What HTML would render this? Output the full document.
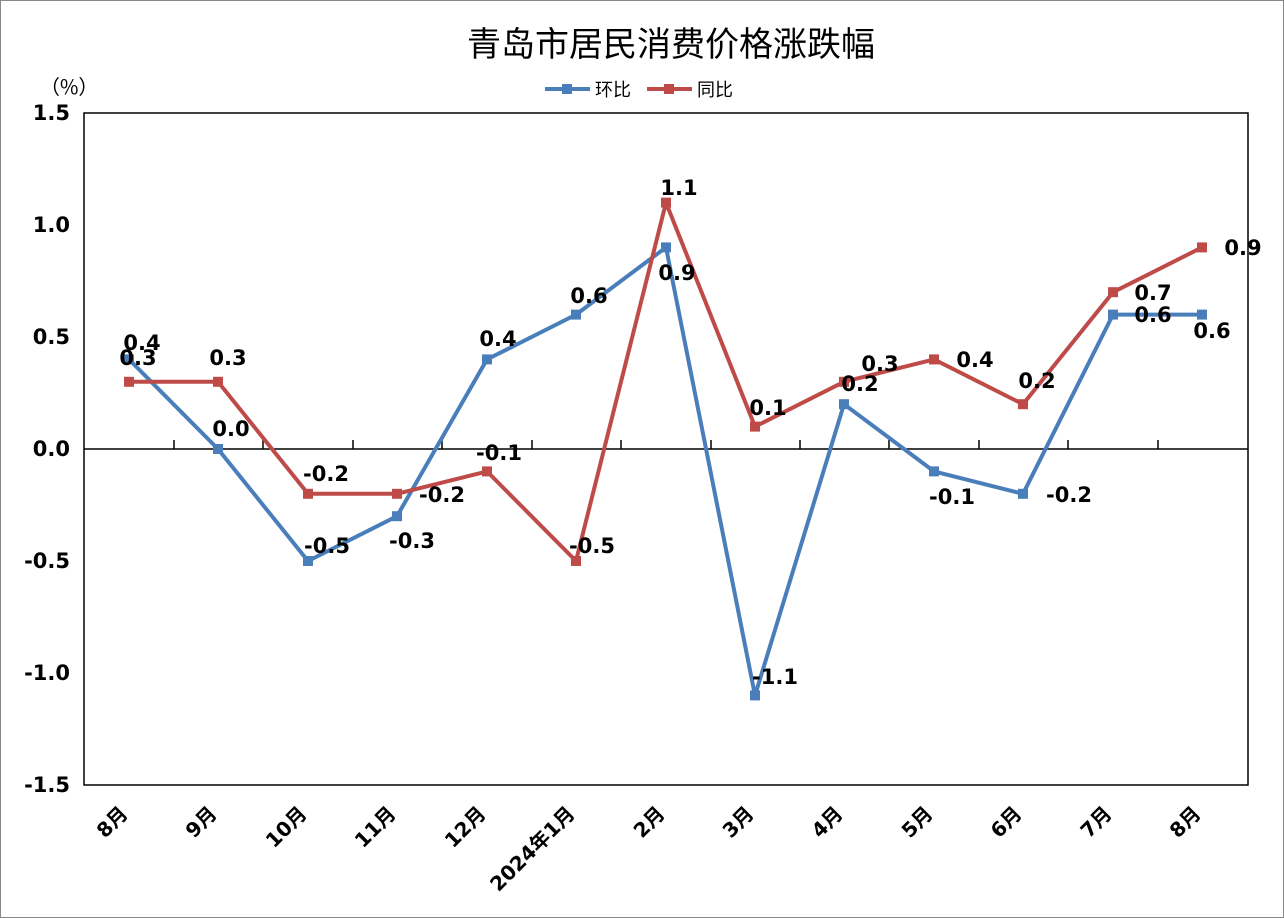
<!DOCTYPE html>
<html><head><meta charset="utf-8"><style>
html,body{margin:0;padding:0;background:#fff}
svg{display:block}
</style></head><body>
<svg width="1284" height="918" xmlns="http://www.w3.org/2000/svg" font-family="'DejaVu Sans','Liberation Sans','Noto Sans CJK SC',sans-serif">
<rect x="0.5" y="0.5" width="1283" height="917" fill="#fff" stroke="#888"/>
<text x="671" y="56" text-anchor="middle" font-size="34" font-family="'Noto Sans CJK SC',sans-serif">青岛市居民消费价格涨跌幅</text>
<text x="40" y="94" font-size="20" font-family="'Noto Sans CJK SC',sans-serif">（%）</text>
<line x1="545" y1="89" x2="590" y2="89" stroke="#4a7ebb" stroke-width="4"/><rect x="562" y="84" width="10" height="10" fill="#4a7ebb"/>
<text x="595" y="96" font-size="18" font-family="'Noto Sans CJK SC',sans-serif">环比</text>
<line x1="647" y1="89" x2="692" y2="89" stroke="#be4b48" stroke-width="4"/><rect x="664" y="84" width="10" height="10" fill="#be4b48"/>
<text x="697" y="96" font-size="18" font-family="'Noto Sans CJK SC',sans-serif">同比</text>
<rect x="84" y="113" width="1164" height="672" fill="none" stroke="#000" stroke-width="1.5"/>
<line x1="84" y1="449" x2="1248" y2="449" stroke="#000" stroke-width="1.5"/>
<g stroke="#000" stroke-width="1.5">
<line x1="174" y1="440" x2="174" y2="449"/><line x1="263" y1="440" x2="263" y2="449"/><line x1="353" y1="440" x2="353" y2="449"/><line x1="442" y1="440" x2="442" y2="449"/><line x1="532" y1="440" x2="532" y2="449"/><line x1="621" y1="440" x2="621" y2="449"/><line x1="711" y1="440" x2="711" y2="449"/><line x1="800" y1="440" x2="800" y2="449"/><line x1="889" y1="440" x2="889" y2="449"/><line x1="979" y1="440" x2="979" y2="449"/><line x1="1068" y1="440" x2="1068" y2="449"/><line x1="1158" y1="440" x2="1158" y2="449"/>
</g>
<g font-size="21" font-weight="bold" text-anchor="end">
<text x="70" y="120">1.5</text><text x="70" y="232">1.0</text><text x="70" y="344">0.5</text><text x="70" y="456">0.0</text><text x="70" y="568">-0.5</text><text x="70" y="680">-1.0</text><text x="70" y="792">-1.5</text>
</g>
<polyline fill="none" stroke="#4a7ebb" stroke-width="4" stroke-linejoin="round" points="129,359.4 218,449 308,561 397,516.2 487,359.4 576,314.6 666,247.4 755,695.4 844,404.2 934,471.4 1023,493.8 1113,314.6 1202,314.6"/>
<polyline fill="none" stroke="#be4b48" stroke-width="4" stroke-linejoin="round" points="129,381.8 218,381.8 308,493.8 397,493.8 487,471.4 576,561 666,202.6 755,426.6 844,381.8 934,359.4 1023,404.2 1113,292.2 1202,247.4"/>
<g fill="#4a7ebb">
<rect x="124" y="354.4" width="10" height="10"/><rect x="213" y="444" width="10" height="10"/><rect x="303" y="556" width="10" height="10"/><rect x="392" y="511.2" width="10" height="10"/><rect x="482" y="354.4" width="10" height="10"/><rect x="571" y="309.6" width="10" height="10"/><rect x="661" y="242.4" width="10" height="10"/><rect x="750" y="690.4" width="10" height="10"/><rect x="839" y="399.2" width="10" height="10"/><rect x="929" y="466.4" width="10" height="10"/><rect x="1018" y="488.8" width="10" height="10"/><rect x="1108" y="309.6" width="10" height="10"/><rect x="1197" y="309.6" width="10" height="10"/>
</g>
<g fill="#be4b48">
<rect x="124" y="376.8" width="10" height="10"/><rect x="213" y="376.8" width="10" height="10"/><rect x="303" y="488.8" width="10" height="10"/><rect x="392" y="488.8" width="10" height="10"/><rect x="482" y="466.4" width="10" height="10"/><rect x="571" y="556" width="10" height="10"/><rect x="661" y="197.6" width="10" height="10"/><rect x="750" y="421.6" width="10" height="10"/><rect x="839" y="376.8" width="10" height="10"/><rect x="929" y="354.4" width="10" height="10"/><rect x="1018" y="399.2" width="10" height="10"/><rect x="1108" y="287.2" width="10" height="10"/><rect x="1197" y="242.4" width="10" height="10"/>
</g>
<g font-size="21" font-weight="bold" text-anchor="middle">
<text x="142" y="350">0.4</text><text x="231" y="436">0.0</text><text x="327" y="553">-0.5</text><text x="412" y="548">-0.3</text><text x="498" y="346">0.4</text><text x="589" y="303">0.6</text><text x="677" y="280">0.9</text><text x="775" y="684">-1.1</text><text x="860" y="391">0.2</text><text x="952" y="504">-0.1</text><text x="1069" y="502">-0.2</text><text x="1153" y="322">0.6</text><text x="1212" y="338">0.6</text>
<text x="138" y="365">0.3</text><text x="228" y="365">0.3</text><text x="326" y="481">-0.2</text><text x="442" y="502">-0.2</text><text x="499" y="460">-0.1</text><text x="592" y="553">-0.5</text><text x="679" y="195">1.1</text><text x="768" y="415">0.1</text><text x="880" y="371">0.3</text><text x="975" y="367">0.4</text><text x="1037" y="388">0.2</text><text x="1153" y="300">0.7</text><text x="1243" y="255">0.9</text>
</g>
<g font-size="20" font-weight="bold" text-anchor="end" font-family="'DejaVu Sans','Noto Sans CJK SC',sans-serif">
<text transform="translate(129,815) rotate(-45)">8月</text>
<text transform="translate(218,815) rotate(-45)">9月</text>
<text transform="translate(308,815) rotate(-45)">10月</text>
<text transform="translate(397,815) rotate(-45)">11月</text>
<text transform="translate(487,815) rotate(-45)">12月</text>
<text transform="translate(576,815) rotate(-45)">2024年1月</text>
<text transform="translate(666,815) rotate(-45)">2月</text>
<text transform="translate(755,815) rotate(-45)">3月</text>
<text transform="translate(844,815) rotate(-45)">4月</text>
<text transform="translate(934,815) rotate(-45)">5月</text>
<text transform="translate(1023,815) rotate(-45)">6月</text>
<text transform="translate(1113,815) rotate(-45)">7月</text>
<text transform="translate(1202,815) rotate(-45)">8月</text>
</g>
</svg>
</body></html>
